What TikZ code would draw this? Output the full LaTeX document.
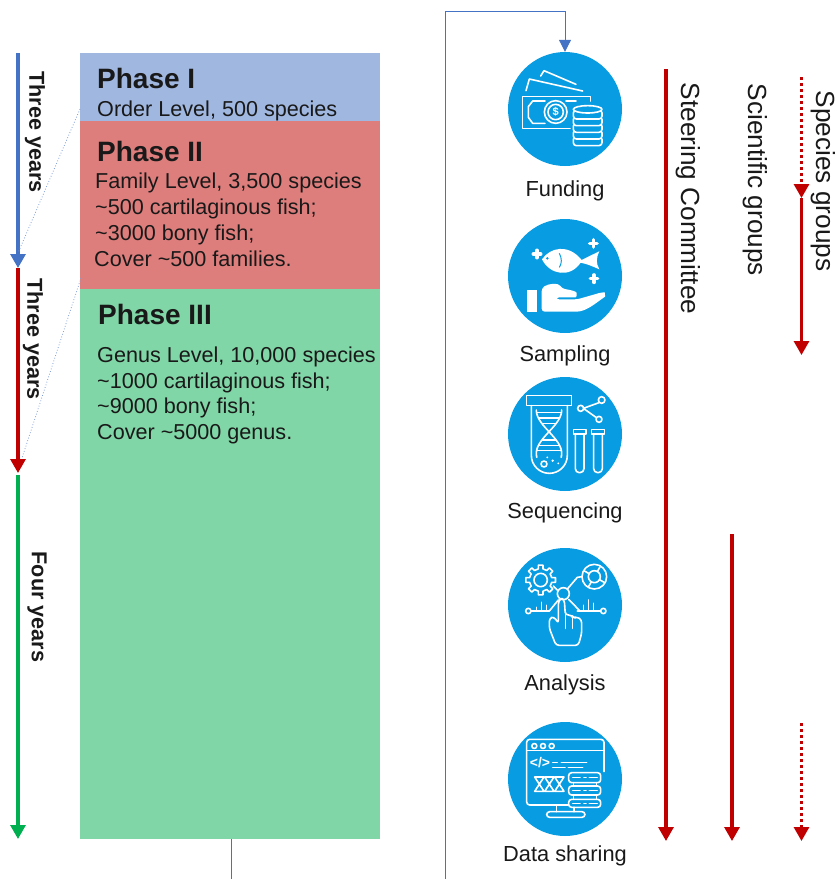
\documentclass[tikz,border=0pt]{standalone}
\usepackage{fontspec}
\setmainfont{Liberation Sans}
\usetikzlibrary{arrows.meta,calc}
\definecolor{pOne}{HTML}{A0B7E0}
\definecolor{pTwo}{HTML}{DE7E7C}
\definecolor{pThree}{HTML}{80D6A6}
\definecolor{lnBlue}{HTML}{4472C4}
\definecolor{lnRed}{HTML}{C00000}
\definecolor{lnGreen}{HTML}{00B050}
\definecolor{iconBlue}{HTML}{089DE3}
\tikzset{
  phasebox/.style={draw=none,inner sep=0pt,anchor=north west},
  phasehead/.style={anchor=base west,inner sep=0pt,font=\fontsize{28}{32}\selectfont\bfseries,text=black!90},
  phasetext/.style={anchor=base west,inner sep=0pt,font=\fontsize{21.6}{26}\selectfont,text=black!90},
  yearlabel/.style={rotate=-90,inner sep=0pt,font=\fontsize{21.6}{26}\selectfont\bfseries,text=black!90},
  grouplabel/.style={rotate=-90,inner sep=0pt,font=\fontsize{26.2}{30}\selectfont,text=black!90},
  steplabel/.style={inner sep=0pt,font=\fontsize{21.8}{26}\selectfont,text=black!90},
  bigarrow/.style={line width=3.1pt,-{Triangle[length=14pt,width=15pt]}},
  dotarrow/.style={bigarrow,lnRed,line width=3.1pt,dash pattern=on 3pt off 3pt},
  guide/.style={lnBlue!70,line width=.8pt,dotted},
  flow/.style={lnBlue,line width=1pt},
  iconcircle/.style={circle,fill=iconBlue,draw=none,minimum size=114pt,inner sep=0pt},
  ic/.style={white,line width=1.6pt,line join=round,line cap=round},
  zoomA/.style={shift={(490,40)},x=.33333pt,y=-.33333pt},
  zoomB/.style={shift={(490,370)},x=.33333pt,y=-.33333pt},
  zoomC/.style={shift={(490,700)},x=.33333pt,y=-.33333pt},
}
\begin{document}
\begin{tikzpicture}[x=1pt,y=-1pt]
\useasboundingbox (0,0) rectangle (837,879);
% phases
\node[phasebox,fill=pOne,minimum width=300pt,minimum height=68pt] (phaseI) at (80,53) {};
\node[phasebox,fill=pTwo,minimum width=300pt,minimum height=168pt] (phaseII) at (80,121) {};
\node[phasebox,fill=pThree,minimum width=300pt,minimum height=550pt] (phaseIII) at (80,289) {};
\node[phasehead] (hI) at (97,88) {Phase I};
\node[phasetext] (tI) at (97,116) {Order Level, 500 species};
\node[phasehead] (hII) at (97,161) {Phase II};
\node[phasetext] (tIIa) at (95,188) {Family Level, 3,500 species};
\node[phasetext] (tIIb) at (95,214) {\textasciitilde500 cartilaginous fish;};
\node[phasetext] (tIIc) at (95,240) {\textasciitilde3000 bony fish;};
\node[phasetext] (tIId) at (94,266) {Cover \textasciitilde500 families.};
\node[phasehead] (hIII) at (98,324) {Phase III};
\node[phasetext] (tIIIa) at (97,362) {Genus Level, 10,000 species};
\node[phasetext] (tIIIb) at (97,388) {\textasciitilde1000 cartilaginous fish;};
\node[phasetext] (tIIIc) at (97,413) {\textasciitilde9000 bony fish;};
\node[phasetext] (tIIId) at (97,439) {Cover \textasciitilde5000 genus.};
% timeline
\coordinate (tl0) at (18,53);
\coordinate (tl1) at (18,268);
\coordinate (tl1b) at (18,268);
\coordinate (tl2) at (18,473);
\coordinate (tl2b) at (18,475);
\coordinate (tl3) at (18,839);
\draw[bigarrow,lnBlue] (tl0) -- (tl1);
\draw[bigarrow,lnRed] (tl1b) -- (tl2);
\draw[bigarrow,lnGreen] (tl2b) -- (tl3);
\node[yearlabel] (y1) at (35,132) {Three years};
\node[yearlabel] (y2) at (33,339) {Three years};
\node[yearlabel] (y3) at (37,607) {Four years};
% guides
\coordinate (g1a) at (80,109);
\coordinate (g1b) at (18,253);
\coordinate (g2a) at (81,278);
\coordinate (g2b) at (22,458);
\draw[guide] (g1a) -- (g1b);
\draw[guide] (g2a) -- (g2b);
% icon circles
\node[iconcircle] (funding) at (565,109) {};
\node[iconcircle] (sampling) at (565,276) {};
\node[iconcircle] (sequencing) at (565,434) {};
\node[iconcircle] (analysis) at (565,605) {};
\node[iconcircle] (sharing) at (565,779) {};
\node[steplabel] (lFunding) at (565,190.5) {Funding};
\node[steplabel] (lSampling) at (565,356) {Sampling};
\node[steplabel] (lSequencing) at (565,513) {Sequencing};
\node[steplabel] (lAnalysis) at (565,685) {Analysis};
\node[steplabel] (lSharing) at (565,856) {Data sharing};
% flow connectors
\coordinate (exitA) at (231,879);
\coordinate (exitB) at (445,879);
\coordinate (flowTop) at (445,11);
\draw[flow] (phaseIII.south -| exitA) -- (exitA);
\draw[flow,-{Triangle[length=12pt,width=12pt]}] (exitB) -- (flowTop) -| (funding.north);
% groups
\coordinate (sc0) at (666,69);   \coordinate (sc1) at (666,841);
\coordinate (sg0) at (732,534);  \coordinate (sg1) at (732,841);
\coordinate (sp0) at (801.5,77);   \coordinate (sp1) at (801.5,198);
\coordinate (sp2) at (801.5,198);  \coordinate (sp3) at (801.5,355);
\coordinate (sp4) at (801.5,723);  \coordinate (sp5) at (801.5,841);
\draw[bigarrow,lnRed] (sc0) -- (sc1);
\draw[bigarrow,lnRed] (sg0) -- (sg1);
\draw[bigarrow,lnRed] (sp2) -- (sp3);
\draw[dotarrow] (sp0) -- (sp1);
\draw[dotarrow] (sp4) -- (sp5);
\node[grouplabel] (gSteer) at (688,198.5) {Steering Committee};
\node[grouplabel] (gSci) at (755,180) {Scientific groups};
\node[grouplabel] (gSpec) at (823,181) {Species groups};
% --- Funding icon
\begin{scope}[zoomA]
\draw[ic] (108,152) -- (118,117) -- (278,153);
\draw[ic] (152,108) -- (162,92) -- (258,133);
\draw[ic] (240,265) -- (98,265) -- (98,170) -- (302,170) -- (302,183);
\draw[ic] (165,183) -- (128,183) -- (115,200) -- (115,232) -- (128,250) -- (165,250);
\draw[ic] (228,183) -- (258,183);
\draw[ic] (197,216) circle [radius=34];
\draw[ic] (197,216) circle [radius=23];
\node[text=white,inner sep=0pt,font=\fontsize{11}{13}\selectfont\bfseries] (dollar) at (197,216) {\$};
\foreach \cy in {300,280,260,240,220}
  \draw[ic,fill=iconBlue,rounded corners=3pt] (250,\cy-10) rectangle (336,\cy+17);
\draw[ic,fill=iconBlue] (293,208) ellipse [x radius=43,y radius=11];
% --- Sampling icon
\foreach \px/\py in {141/642,310/610,312/716}
  \draw[white,line width=3.6pt,line cap=round] (\px-11,\py) -- (\px+11,\py) (\px,\py-11) -- (\px,\py+11);
\fill[white] (156,658) .. controls (180,622) and (235,610) .. (275,660)
  .. controls (295,650) and (315,640) .. (328,634) .. controls (318,655) and (318,670) .. (328,688)
  .. controls (310,680) and (292,672) .. (272,668)
  .. controls (240,715) and (180,705) .. (156,658) -- cycle;
\draw[iconBlue,line width=1pt] (208,640) .. controls (216,655) and (216,670) .. (208,682);
\fill[iconBlue] (172,655) circle [radius=4];
\fill[white] (110,750) rectangle (141,815);
\fill[white,rounded corners=3pt] (155,815) -- (155,745) .. controls (175,730) and (205,728) .. (215,745)
  -- (250,752) .. controls (262,758) and (260,772) .. (248,772) -- (198,772) -- (198,778) -- (262,778)
  -- (335,757) .. controls (345,757) and (345,770) .. (338,775) .. controls (310,795) and (285,815) .. (250,815) -- cycle;
\end{scope}
% --- Sequencing icon
\begin{scope}[zoomB]
\draw[ic] (110,77) rectangle (245,107);
\draw[ic,rounded corners=18pt] (124,107) -- (124,310) -- (232,310) -- (232,107);
\draw[ic,smooth] plot[domain=120:262,samples=30] ({177+38*cos((\x-120)*1.38)},\x);
\draw[ic,smooth] plot[domain=120:262,samples=30] ({177-38*cos((\x-120)*1.38)},\x);
\foreach \ry in {128,144,160,210,226,242}
  \draw[ic] ({177-36*cos((\ry-120)*1.38)},\ry) -- ({177+36*cos((\ry-120)*1.38)},\ry);
\draw[ic] (162,282) circle [radius=9];
\fill[white] (188,272) circle [radius=4] (205,280) circle [radius=3] (172,262) circle [radius=3];
\draw[ic] (327,98) -- (280,115) -- (318,142);
\draw[ic,fill=iconBlue] (335,90) circle [radius=10];
\draw[ic,fill=iconBlue] (272,115) circle [radius=9];
\draw[ic,fill=iconBlue] (327,148) circle [radius=9];
\draw[ic] (250,178) rectangle (288,192);
\draw[ic] (305,178) rectangle (343,192);
\draw[ic,rounded corners=4pt] (256,192) -- (256,308) -- (282,308) -- (282,192);
\draw[ic,rounded corners=4pt] (311,192) -- (311,308) -- (337,308) -- (337,192);
% --- Analysis icon
\begin{scope}[shift={(152,630)}]
\draw[ic] \foreach \a in {0,45,...,315} { ({\a-12}:34) -- ({\a-9}:45) -- ({\a+9}:45) -- ({\a+12}:34) -- ({\a+33}:34) };
\draw[ic] (0,0) circle [radius=20];
\end{scope}
\draw[ic] (313,620) circle [radius=37];
\draw[ic] (313,620) circle [radius=18];
\foreach \a in {30,120,210,300}
  \draw[ic] ($(313,620)+(\a:18)$) -- ($(313,620)+(\a:37)$);
\draw[ic] (232,657) -- (262,622) -- (276,620);
\draw[ic] (202,660) -- (190,648);
\draw[ic,fill=iconBlue] (220,671) circle [radius=18];
\draw[ic] (123,723) -- (178,723) (262,723) -- (332,723);
\draw[ic] (178,723) -- (205,690) (236,688) -- (270,723);
\draw[ic] (115,723) circle [radius=8];
\draw[ic] (340,723) circle [radius=8];
\foreach \bx/\bt in {140/712,155/697,170/706,280/706,295/690,310/700}
  \draw[ic] (\bx,723) -- (\bx,\bt);
\draw[ic,fill=iconBlue,rounded corners=3pt] (198,826) -- (178,775) -- (178,745) -- (192,740) -- (205,760) -- (205,695) -- (213,684) -- (223,690) -- (226,735) -- (245,735) -- (250,745) -- (262,740) -- (275,750) -- (275,790) -- (265,826) -- cycle;
\draw[ic] (226,735) -- (226,775) (248,745) -- (248,775);
\end{scope}
% --- Data sharing icon
\begin{scope}[zoomC]
\draw[ic,rounded corners=3pt] (235,315) -- (110,315) -- (110,118) -- (342,118) -- (342,215);
\draw[ic] (110,152) -- (342,152);
\foreach \dx in {133,159,185} \draw[ic] (\dx,138) circle [radius=7.5];
\node[text=white,inner sep=0pt,font=\fontsize{14}{16}\selectfont\bfseries] (codeTag) at (150,189) {</>};
\draw[ic] (188,187) -- (202,187) (214,187) -- (290,187) (188,203) -- (225,203) (235,203) -- (278,203);
\foreach \hx in {148,178,208} {
  \draw[ic] (\hx-14,231) -- (\hx+14,231) -- (\hx-14,274) -- (\hx+14,274) -- cycle;
}
\foreach \sa/\sb in {218/248,258/285,298/322} {
  \draw[ic,fill=iconBlue,rounded corners=3pt] (236,\sa) rectangle (332,\sb);
  \draw[ic] (248,{(\sa+\sb)/2}) -- (270,{(\sa+\sb)/2}) (282,{(\sa+\sb)/2}) -- (288,{(\sa+\sb)/2}) (298,{(\sa+\sb)/2}) -- (322,{(\sa+\sb)/2});
}
\draw[ic] (250,248) -- (250,258) (320,248) -- (320,258) (250,285) -- (250,298) (320,285) -- (320,298);
\draw[ic] (200,316) -- (200,335) (252,322) -- (252,335);
\draw[ic,rounded corners=3pt] (170,335) rectangle (285,352);
\end{scope}
\end{tikzpicture}
\end{document}
